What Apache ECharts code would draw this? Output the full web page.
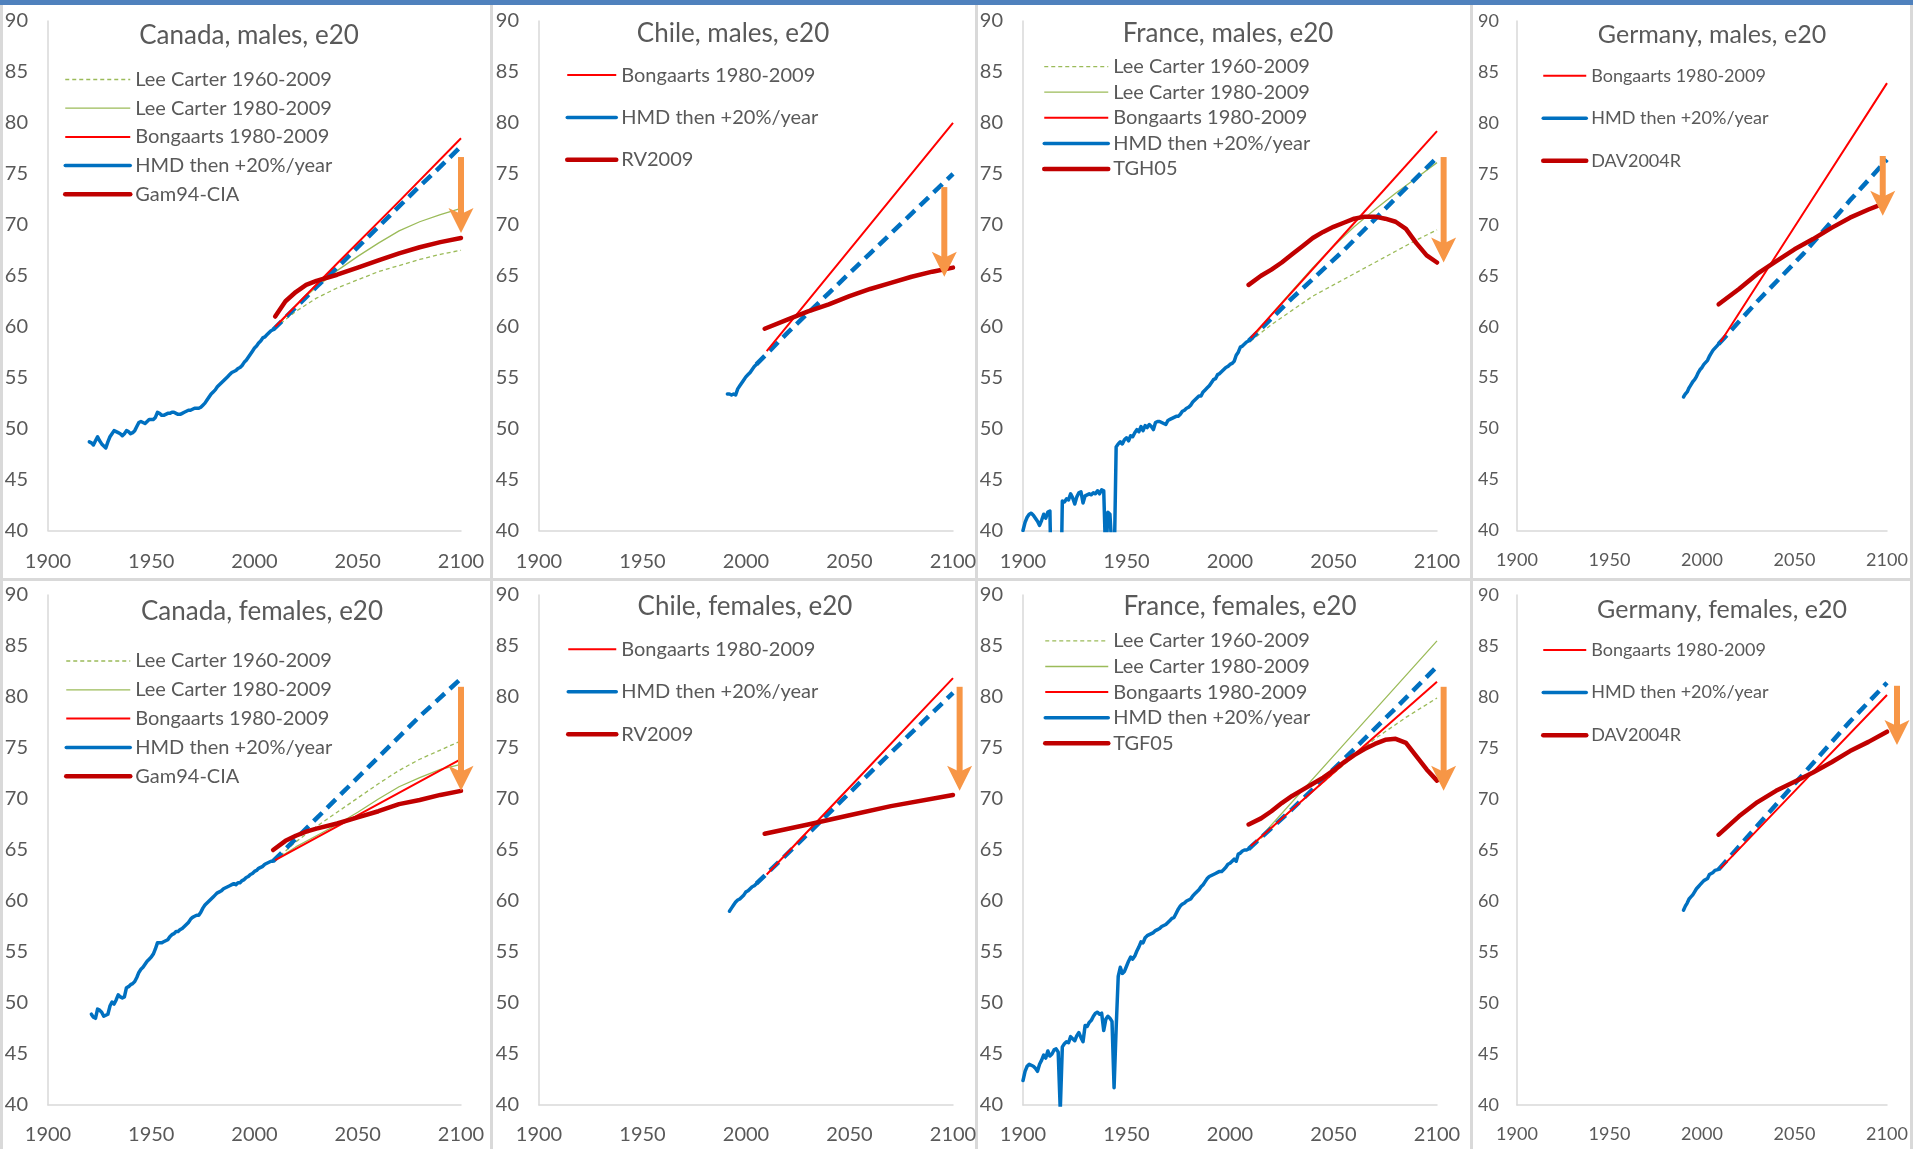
<!DOCTYPE html>
<html><head><meta charset="utf-8">
<script src="https://cdn.jsdelivr.net/npm/echarts@6/dist/echarts.min.js"></script>
<style>html,body{margin:0;padding:0;background:#fff}#c{width:1913px;height:1149px}</style>
</head><body><div id="c"></div>
<script>
// ---------------- DATA ----------------
const xTicks = [1900, 1950, 2000, 2050, 2100];
const yTicks = [40, 45, 50, 55, 60, 65, 70, 75, 80, 85, 90];

// Canada, males
const canM_hist = [[1920,48.7],[1921,48.6],[1922,48.4],[1923,48.8],[1924,49.2],[1925,48.8],[1926,48.5],[1927,48.3],[1928,48.1],[1929,48.7],[1930,49.2],[1931,49.5],[1932,49.8],[1933,49.7],[1934,49.6],[1935,49.5],[1936,49.3],[1937,49.5],[1938,49.8],[1939,49.7],[1940,49.5],[1941,49.6],[1942,49.8],[1943,50.2],[1944,50.6],[1945,50.7],[1946,50.6],[1947,50.5],[1948,50.7],[1949,50.9],[1950,50.9],[1951,50.9],[1952,51.1],[1953,51.6],[1954,51.5],[1955,51.3],[1956,51.3],[1957,51.4],[1958,51.5],[1959,51.5],[1960,51.6],[1961,51.6],[1962,51.5],[1963,51.4],[1964,51.4],[1965,51.5],[1966,51.6],[1967,51.7],[1968,51.8],[1969,51.8],[1970,51.9],[1971,52.0],[1972,52.0],[1973,52.0],[1974,52.1],[1975,52.3],[1976,52.5],[1977,52.8],[1978,53.1],[1979,53.4],[1980,53.6],[1981,53.8],[1982,54.1],[1983,54.3],[1984,54.5],[1985,54.7],[1986,54.9],[1987,55.1],[1988,55.3],[1989,55.5],[1990,55.6],[1991,55.7],[1992,55.9],[1993,56.0],[1994,56.2],[1995,56.5],[1996,56.7],[1997,57.0],[1998,57.3],[1999,57.6],[2000,57.9],[2001,58.1],[2002,58.4],[2003,58.6],[2004,58.9],[2005,59.0],[2006,59.2],[2007,59.4],[2008,59.6],[2009,59.7]];
const canM_proj = [[2009,59.7],[2020,61.9],[2030,63.9],[2040,65.8],[2050,67.8],[2060,69.8],[2070,71.8],[2080,73.8],[2090,75.7],[2100,77.7]];
const canM_bong = [[2010,60.0],[2040,66.2],[2070,72.3],[2100,78.5]];
const canM_lc80 = [[2010,59.9],[2020,62.1],[2030,63.9],[2040,65.5],[2050,66.9],[2060,68.2],[2070,69.4],[2080,70.3],[2090,71.0],[2100,71.6]];
const canM_lc60 = [[2010,59.9],[2020,61.5],[2030,62.8],[2040,63.8],[2050,64.6],[2060,65.4],[2070,66.0],[2080,66.6],[2090,67.1],[2100,67.5]];
const canM_tab = [[2010,61.0],[2015,62.5],[2020,63.4],[2025,64.1],[2030,64.5],[2040,65.1],[2050,65.8],[2060,66.5],[2070,67.2],[2080,67.8],[2090,68.3],[2100,68.7]];
const canM_arrow = [[2100,76.65,69.2]];

// Chile, males
const chiM_hist = [[1991,53.4],[1992,53.4],[1993,53.3],[1994,53.4],[1995,53.3],[1996,53.9],[1997,54.2],[1998,54.5],[1999,54.8],[2000,55.1],[2001,55.3],[2002,55.5],[2003,55.8],[2004,56.1],[2005,56.3]];
const chiM_proj = [[2005,56.3],[2020,59.4],[2040,63.3],[2060,67.2],[2080,71.1],[2100,75.0]];
const chiM_bong = [[2010,57.6],[2055,68.8],[2100,80.0]];
const chiM_tab = [[2009,59.8],[2020,60.7],[2030,61.5],[2040,62.2],[2050,63.0],[2060,63.7],[2070,64.3],[2080,64.9],[2090,65.4],[2100,65.8]];
const chiM_arrow = [[2095.8,73.7,64.9]];

// France, males (values below 40 fall off the bottom of the plot)
const fraM_hist = [[1900,40.0],[1901,40.8],[1902,41.3],[1903,41.6],[1904,41.7],[1905,41.5],[1906,41.2],[1907,40.9],[1908,40.5],[1909,41.0],[1910,41.6],[1911,41.2],[1912,41.8],[1913,41.9],[1914,31],[1915,28],[1916,30],[1917,31],[1918,30],[1919,42.9],[1920,42.8],[1921,43.1],[1922,43.0],[1923,43.6],[1924,43.2],[1925,42.6],[1926,43.3],[1927,43.7],[1928,43.8],[1929,42.7],[1930,43.4],[1931,43.5],[1932,43.6],[1933,43.5],[1934,43.7],[1935,43.6],[1936,43.9],[1937,43.6],[1938,44.0],[1939,43.9],[1940,37],[1941,41.8],[1942,41.6],[1943,38],[1944,36],[1945,48.2],[1946,48.5],[1947,48.7],[1948,48.5],[1949,48.9],[1950,49.1],[1951,48.8],[1952,49.3],[1953,49.2],[1954,49.6],[1955,49.9],[1956,49.7],[1957,50.2],[1958,49.8],[1959,50.3],[1960,50.1],[1961,50.4],[1962,50.2],[1963,49.9],[1964,50.6],[1965,50.7],[1966,50.7],[1967,50.6],[1968,50.5],[1969,50.4],[1970,50.8],[1971,50.9],[1972,51.0],[1973,51.1],[1974,51.2],[1975,51.2],[1976,51.4],[1977,51.7],[1978,51.8],[1979,52.0],[1980,52.1],[1981,52.3],[1982,52.6],[1983,52.8],[1984,53.0],[1985,53.2],[1986,53.2],[1987,53.6],[1988,53.8],[1989,54.0],[1990,54.2],[1991,54.5],[1992,54.8],[1993,54.9],[1994,55.3],[1995,55.4],[1996,55.6],[1997,55.8],[1998,56.0],[1999,56.1],[2000,56.3],[2001,56.4],[2002,56.6],[2003,57.2],[2004,57.5],[2005,58.0],[2006,58.1],[2007,58.3],[2008,58.5],[2009,58.6]];
const fraM_proj = [[2009,58.6],[2030,62.8],[2055,67.5],[2080,72.6],[2100,76.6]];
const fraM_bong = [[2010,58.9],[2055,69.05],[2100,79.2]];
const fraM_lc80 = [[2010,58.6],[2020,61.2],[2030,63.5],[2040,65.8],[2050,67.9],[2060,69.8],[2070,71.5],[2080,73.1],[2090,74.6],[2100,76.1]];
const fraM_lc60 = [[2010,58.6],[2020,60.2],[2030,61.6],[2040,63.0],[2050,64.1],[2060,65.2],[2070,66.3],[2080,67.4],[2090,68.5],[2100,69.5]];
const fraM_tab = [[2009,64.1],[2015,65.0],[2020,65.6],[2025,66.3],[2030,67.1],[2035,67.9],[2040,68.7],[2045,69.3],[2050,69.8],[2055,70.2],[2060,70.6],[2065,70.8],[2070,70.8],[2075,70.6],[2080,70.3],[2085,69.6],[2090,68.2],[2095,67.0],[2100,66.3]];
const fraM_arrow = [[2103.2,76.65,66.3]];

// Germany, males
const gerM_hist = [[1990,53.1],[1991,53.4],[1992,53.6],[1993,54.0],[1994,54.3],[1995,54.6],[1996,54.8],[1997,55.1],[1998,55.5],[1999,55.8],[2000,56.0],[2001,56.3],[2002,56.5],[2003,56.7],[2004,57.1],[2005,57.4],[2006,57.7],[2007,57.9],[2008,58.1],[2009,58.3]];
const gerM_proj = [[2009,58.3],[2030,62.5],[2055,67.2],[2080,72.4],[2100,76.4]];
const gerM_bong = [[2010,58.5],[2055,71.2],[2100,83.9]];
const gerM_tab = [[2009,62.2],[2020,63.7],[2030,65.2],[2040,66.4],[2050,67.6],[2060,68.6],[2070,69.7],[2080,70.7],[2090,71.5],[2097,72.0]];
const gerM_arrow = [[2097.7,76.75,70.9]];

// Canada, females
const canF_hist = [[1921,48.9],[1922,48.6],[1923,48.5],[1924,49.4],[1925,49.3],[1926,49.1],[1927,48.7],[1928,48.8],[1929,48.9],[1930,49.7],[1931,50.1],[1932,49.9],[1933,50.3],[1934,50.8],[1935,50.6],[1936,50.5],[1937,50.6],[1938,51.5],[1939,51.6],[1940,51.8],[1941,51.9],[1942,52.1],[1943,52.5],[1944,53.0],[1945,53.3],[1946,53.5],[1947,53.8],[1948,54.1],[1949,54.3],[1950,54.5],[1951,54.8],[1952,55.3],[1953,55.9],[1954,55.9],[1955,55.9],[1956,56.0],[1957,56.1],[1958,56.2],[1959,56.5],[1960,56.7],[1961,56.8],[1962,57.0],[1963,57.0],[1964,57.2],[1965,57.3],[1966,57.5],[1967,57.7],[1968,57.9],[1969,58.2],[1970,58.4],[1971,58.5],[1972,58.6],[1973,58.6],[1974,58.9],[1975,59.3],[1976,59.6],[1977,59.8],[1978,60.0],[1979,60.2],[1980,60.4],[1981,60.6],[1982,60.8],[1983,60.9],[1984,61.0],[1985,61.2],[1986,61.3],[1987,61.4],[1988,61.5],[1989,61.6],[1990,61.7],[1991,61.6],[1992,61.8],[1993,61.8],[1994,62.0],[1995,62.1],[1996,62.3],[1997,62.4],[1998,62.6],[1999,62.7],[2000,62.9],[2001,63.0],[2002,63.2],[2003,63.3],[2004,63.4],[2005,63.6],[2006,63.7],[2007,63.8],[2008,63.9],[2009,63.9]];
const canF_proj = [[2009,63.9],[2030,68.1],[2055,73.1],[2080,78.1],[2100,81.8]];
const canF_bong = [[2010,64.0],[2055,68.95],[2100,73.9]];
const canF_lc80 = [[2010,64.0],[2020,65.3],[2030,66.4],[2040,67.5],[2050,68.7],[2060,70.0],[2070,71.2],[2080,72.1],[2090,72.9],[2100,73.4]];
const canF_lc60 = [[2010,64.0],[2020,65.8],[2030,67.3],[2040,68.7],[2050,70.1],[2060,71.5],[2070,72.8],[2080,73.9],[2090,74.8],[2100,75.7]];
const canF_tab = [[2009,65.0],[2015,65.9],[2020,66.4],[2025,66.8],[2030,67.1],[2040,67.6],[2050,68.2],[2060,68.8],[2070,69.5],[2080,69.9],[2090,70.4],[2100,70.8]];
const canF_arrow = [[2100,81.0,70.8]];

// Chile, females
const chiF_hist = [[1992,59.0],[1993,59.3],[1994,59.6],[1995,59.9],[1996,60.1],[1997,60.2],[1998,60.4],[1999,60.6],[2000,60.9],[2001,61.0],[2002,61.2],[2003,61.4],[2004,61.5],[2005,61.7]];
const chiF_proj = [[2005,61.7],[2030,66.6],[2055,71.6],[2080,76.5],[2100,80.4]];
const chiF_bong = [[2010,62.6],[2055,72.2],[2100,81.85]];
const chiF_tab = [[2009,66.6],[2030,67.5],[2050,68.4],[2070,69.3],[2100,70.4]];
const chiF_arrow = [[2103.2,81.0,70.8]];

// France, females
const fraF_hist = [[1900,42.4],[1901,43.3],[1902,43.8],[1903,44.0],[1904,43.9],[1905,43.8],[1906,43.6],[1907,43.3],[1908,44.0],[1909,44.4],[1910,44.9],[1911,44.6],[1912,45.3],[1913,44.8],[1914,45.0],[1915,45.4],[1916,45.5],[1917,45.2],[1918,39.5],[1919,45.7],[1920,46.0],[1921,46.2],[1922,46.1],[1923,46.7],[1924,46.5],[1925,46.3],[1926,46.8],[1927,47.1],[1928,46.6],[1929,46.2],[1930,47.8],[1931,47.7],[1932,48.1],[1933,48.3],[1934,48.7],[1935,49.0],[1936,49.1],[1937,48.9],[1938,49.0],[1939,47.3],[1940,48.4],[1941,48.7],[1942,48.5],[1943,48.2],[1944,41.7],[1945,47.5],[1946,52.6],[1947,53.5],[1948,52.9],[1949,53.1],[1950,53.6],[1951,54.1],[1952,54.5],[1953,54.3],[1954,54.6],[1955,55.1],[1956,55.5],[1957,56.0],[1958,55.9],[1959,56.4],[1960,56.6],[1961,56.7],[1962,56.8],[1963,56.9],[1964,57.1],[1965,57.2],[1966,57.3],[1967,57.5],[1968,57.6],[1969,57.7],[1970,57.9],[1971,58.1],[1972,58.3],[1973,58.4],[1974,58.8],[1975,59.2],[1976,59.5],[1977,59.7],[1978,59.8],[1979,60.0],[1980,60.1],[1981,60.2],[1982,60.5],[1983,60.7],[1984,60.9],[1985,61.1],[1986,61.4],[1987,61.6],[1988,61.9],[1989,62.2],[1990,62.4],[1991,62.5],[1992,62.6],[1993,62.7],[1994,62.8],[1995,62.9],[1996,62.9],[1997,63.1],[1998,63.3],[1999,63.6],[2000,63.7],[2001,63.9],[2002,64.1],[2003,63.9],[2004,64.6],[2005,64.7],[2006,64.9],[2007,65.0],[2008,65.0],[2009,65.1]];
const fraF_proj = [[2009,65.1],[2030,69.0],[2055,73.9],[2080,78.9],[2100,83.0]];
const fraF_bong = [[2010,65.4],[2055,73.45],[2100,81.5]];
const fraF_lc80 = [[2010,65.2],[2055,75.35],[2100,85.5]];
const fraF_lc60 = [[2010,65.2],[2030,69.0],[2050,72.5],[2070,75.9],[2085,78.0],[2100,79.9]];
const fraF_tab = [[2009,67.5],[2015,68.1],[2020,68.8],[2025,69.6],[2030,70.3],[2035,70.9],[2040,71.5],[2045,72.1],[2050,72.8],[2055,73.6],[2060,74.3],[2065,74.9],[2070,75.4],[2075,75.8],[2080,75.9],[2085,75.5],[2090,74.2],[2095,72.9],[2100,71.8]];
const fraF_arrow = [[2103.2,81.0,70.8]];

// Germany, females
const gerF_hist = [[1990,59.1],[1991,59.5],[1992,59.8],[1993,60.2],[1994,60.4],[1995,60.6],[1996,60.9],[1997,61.2],[1998,61.4],[1999,61.6],[2000,61.8],[2001,62.0],[2002,62.1],[2003,62.2],[2004,62.6],[2005,62.7],[2006,62.8],[2007,63.0],[2008,63.0],[2009,63.1]];
const gerF_proj = [[2009,63.1],[2030,67.4],[2055,72.5],[2080,77.6],[2100,81.4]];
const gerF_bong = [[2010,63.2],[2055,71.7],[2100,80.2]];
const gerF_tab = [[2009,66.5],[2020,68.3],[2030,69.7],[2040,70.8],[2050,71.7],[2060,72.6],[2070,73.6],[2080,74.7],[2090,75.6],[2100,76.6]];
const gerF_arrow = [[2105.4,81.1,75.3]];

const titles = ['Canada, males, e20','Chile, males, e20','France, males, e20','Germany, males, e20',
                'Canada, females, e20','Chile, females, e20','France, females, e20','Germany, females, e20'];
const N_LC60 = 'Lee Carter 1960-2009', N_LC80 = 'Lee Carter 1980-2009', N_BONG = 'Bongaarts 1980-2009', N_HMD = 'HMD then +20%/year';

const panels = [
  {lc60:canM_lc60, lc80:canM_lc80, bong:canM_bong, hist:canM_hist, proj:canM_proj, tab:canM_tab, tabName:'Gam94-CIA', arrow:canM_arrow},
  {bong:chiM_bong, hist:chiM_hist, proj:chiM_proj, tab:chiM_tab, tabName:'RV2009', arrow:chiM_arrow},
  {lc60:fraM_lc60, lc80:fraM_lc80, bong:fraM_bong, hist:fraM_hist, proj:fraM_proj, tab:fraM_tab, tabName:'TGH05', arrow:fraM_arrow},
  {bong:gerM_bong, hist:gerM_hist, proj:gerM_proj, tab:gerM_tab, tabName:'DAV2004R', arrow:gerM_arrow},
  {lc60:canF_lc60, lc80:canF_lc80, bong:canF_bong, hist:canF_hist, proj:canF_proj, tab:canF_tab, tabName:'Gam94-CIA', arrow:canF_arrow},
  {bong:chiF_bong, hist:chiF_hist, proj:chiF_proj, tab:chiF_tab, tabName:'RV2009', arrow:chiF_arrow},
  {lc60:fraF_lc60, lc80:fraF_lc80, bong:fraF_bong, hist:fraF_hist, proj:fraF_proj, tab:fraF_tab, tabName:'TGF05', arrow:fraF_arrow},
  {bong:gerF_bong, hist:gerF_hist, proj:gerF_proj, tab:gerF_tab, tabName:'DAV2004R', arrow:gerF_arrow}
];

// ---------------- LAYOUT / STYLE ----------------
const FONT = 'Lato, "Open Sans", sans-serif';
const TXT = '#595959';
const AXC = '#d9d9d9';
const layout = [
  {left:48,  top:21,  w:413, h:509.5, tx:249,  ty:36,   lx:63,   lw:65, ly:79.5,  sp:28.7, fs:20, tfs:26, m:20},
  {left:539, top:21,  w:414, h:509.5, tx:733,  ty:33.5, lx:565,  lw:49, ly:75.1,  sp:42.3, fs:20, tfs:26, m:20},
  {left:1023,top:21,  w:414, h:509.5, tx:1228, ty:33.5, lx:1042, lw:64, ly:66.6,  sp:25.6, fs:20, tfs:26, m:20},
  {left:1517,top:21,  w:370, h:509.5, tx:1712, ty:35,   lx:1541, lw:43, ly:75.8,  sp:42.5, fs:18, tfs:25, m:18},
  {left:48,  top:595, w:413, h:510,   tx:262,  ty:611.5,lx:64,   lw:64, ly:661,   sp:28.8, fs:20, tfs:26, m:20},
  {left:539, top:595, w:414, h:510,   tx:745,  ty:607,  lx:566,  lw:48, ly:649.3, sp:42.5, fs:20, tfs:26, m:20},
  {left:1023,top:595, w:414, h:510,   tx:1240, ty:607,  lx:1043, lw:63, ly:640.9, sp:25.6, fs:20, tfs:26, m:20},
  {left:1517,top:595, w:370, h:510,   tx:1722, ty:610,  lx:1541, lw:43, ly:650,   sp:42.6, fs:18, tfs:25, m:18}
];

const grid = [], xAxis = [], yAxis = [], title = [], legend = [], series = [];
function lineS(name, data, i, color, width, type, z, cap) {
  return {name, type:'line', data, xAxisIndex:i, yAxisIndex:i, symbol:'none', showSymbol:false, silent:true,
    clip:true, z:z, lineStyle:{color, width, type:type||'solid', cap:cap||'butt', join:'round'}, itemStyle:{color},
    emphasis:{disabled:true}};
}
panels.forEach((p, i) => {
  const L = layout[i];
  grid.push({left:L.left, top:L.top, width:L.w, height:L.h, containLabel:false});
  xAxis.push({type:'value', gridIndex:i, min:xTicks[0], max:xTicks[xTicks.length-1], interval:50,
    axisLine:{show:true, onZero:false, lineStyle:{color:AXC, width:1.5}}, axisTick:{show:false}, splitLine:{show:false},
    axisLabel:{color:TXT, fontSize:L.fs, fontFamily:FONT, margin:i<4?21:20, showMinLabel:true, showMaxLabel:true,
      formatter:v => String(v)}});
  yAxis.push({type:'value', gridIndex:i, min:yTicks[0], max:yTicks[yTicks.length-1], interval:5,
    axisLine:{show:true, onZero:false, lineStyle:{color:AXC, width:1.5}}, axisTick:{show:false}, splitLine:{show:false},
    axisLabel:{color:TXT, fontSize:L.fs, fontFamily:FONT, margin:L.m, formatter:v => String(v)}});
  title.push({text:titles[i], left:L.tx, top:L.ty-13, textAlign:'center', padding:0,
    textStyle:{color:TXT, fontSize:L.tfs, fontWeight:'normal', fontFamily:FONT, lineHeight:26}});
  const names = [];
  if (p.lc60) names.push(N_LC60);
  if (p.lc80) names.push(N_LC80);
  names.push(N_BONG, N_HMD, p.tabName);
  legend.push({data:names, orient:'vertical', left:L.lx, top:L.ly-10, padding:0, itemWidth:L.lw, itemHeight:14,
    itemGap:L.sp-20, selectedMode:false, itemStyle:{opacity:0}, lineStyle:{width:'inherit'},
    textStyle:{color:TXT, fontSize:L.fs, fontFamily:FONT, lineHeight:20}});
  if (p.lc60) series.push(lineS(N_LC60, p.lc60, i, '#9bbb59', 1.3, [4,3], 2));
  if (p.lc80) series.push(lineS(N_LC80, p.lc80, i, '#9bbb59', 1.3, 'solid', 2));
  series.push(lineS(N_HMD, p.hist, i, '#0070c0', 3.5, 'solid', 3, 'round'));
  series.push(lineS('HMD projection +20%/year', p.proj, i, '#0070c0', 4.5, [12,7], 3));
  series.push(lineS(N_BONG, p.bong, i, '#ff0000', 2, 'solid', 4));
  series.push(lineS(p.tabName, p.tab, i, '#c00000', 4.5, 'solid', 5, 'round'));
  series.push({type:'custom', name:'arrow'+i, xAxisIndex:i, yAxisIndex:i, data:p.arrow, clip:false, silent:true, z:6,
    renderItem:(params, api) => {
      const x = api.value(0), a = api.coord([x, api.value(1)]), b = api.coord([x, api.value(2)]);
      const hw = 12.5, hh = 25, notch = 6;
      return {type:'group', children:[
        {type:'line', shape:{x1:a[0], y1:a[1], x2:b[0], y2:b[1]-hh+notch+1}, style:{stroke:'#f79646', lineWidth:6}},
        {type:'polygon', shape:{points:[[b[0],b[1]],[b[0]-hw,b[1]-hh],[b[0],b[1]-hh+notch],[b[0]+hw,b[1]-hh]]}, style:{fill:'#f79646'}}
      ]};
    }});
});

const SEP = '#d9d9d9';
const graphic = [
  {type:'rect', shape:{x:0, y:0, width:1913, height:5}, style:{fill:'#4f81bd'}, z:-5, silent:true},
  {type:'rect', shape:{x:0, y:5, width:3, height:1144}, style:{fill:SEP}, z:-5, silent:true},
  {type:'rect', shape:{x:490, y:5, width:3, height:1144}, style:{fill:SEP}, z:-5, silent:true},
  {type:'rect', shape:{x:975, y:5, width:3, height:1144}, style:{fill:SEP}, z:-5, silent:true},
  {type:'rect', shape:{x:1470, y:5, width:3, height:1144}, style:{fill:SEP}, z:-5, silent:true},
  {type:'rect', shape:{x:1910, y:5, width:3, height:1144}, style:{fill:SEP}, z:-5, silent:true},
  {type:'rect', shape:{x:0, y:578, width:1913, height:3}, style:{fill:SEP}, z:-5, silent:true}
];

const chart = echarts.init(document.getElementById('c'), null, {renderer:'canvas'});
chart.setOption({backgroundColor:'#fff', animation:false, grid, xAxis, yAxis, title, legend, series, graphic});
</script>
</body></html>
